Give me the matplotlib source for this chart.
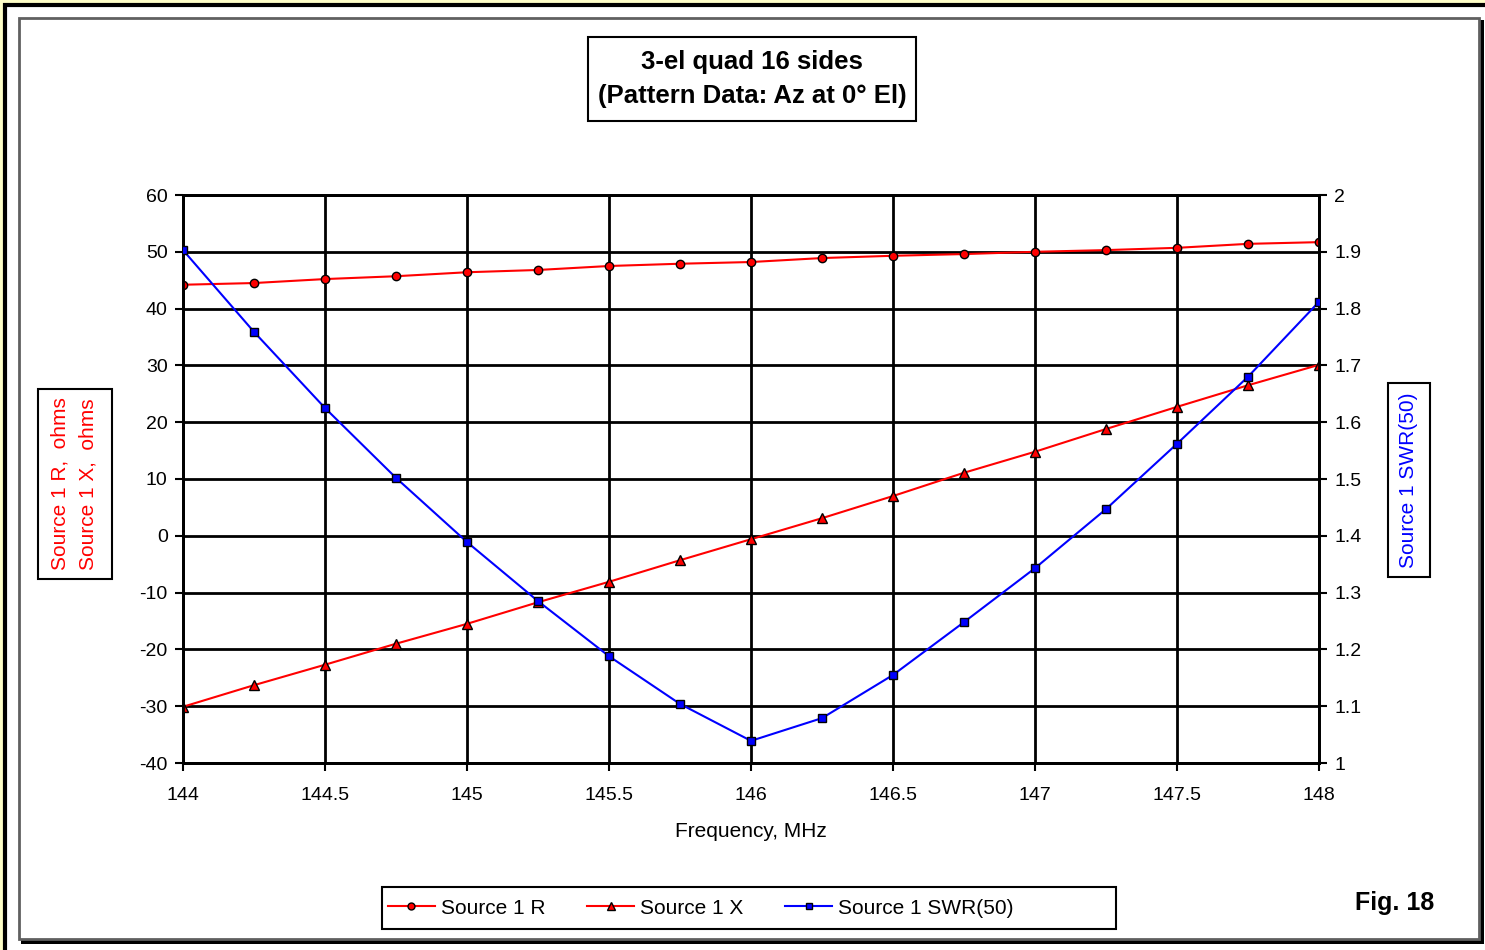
import matplotlib
matplotlib.use('Agg')
import matplotlib.pyplot as plt
from matplotlib.patches import Rectangle
from matplotlib.lines import Line2D

plt.rcParams['font.family'] = ['Liberation Sans', 'DejaVu Sans']
plt.rcParams['axes.unicode_minus'] = False

freq = [144, 144.25, 144.5, 144.75, 145, 145.25, 145.5, 145.75, 146,
        146.25, 146.5, 146.75, 147, 147.25, 147.5, 147.75, 148]
res = [44.2, 44.5, 45.2, 45.7, 46.4, 46.8, 47.5, 47.9, 48.2,
       48.9, 49.3, 49.6, 50.0, 50.3, 50.7, 51.4, 51.7]
react = [-30.1, -26.3, -22.7, -19.0, -15.5, -11.7, -8.1, -4.3, -0.6,
         3.1, 7.0, 11.1, 14.8, 18.8, 22.7, 26.5, 30.1]
swr = [1.903, 1.759, 1.625, 1.502, 1.389, 1.285, 1.188, 1.104, 1.039,
       1.079, 1.155, 1.248, 1.343, 1.447, 1.562, 1.680, 1.812]

W, H = 1485, 950
fig = plt.figure(figsize=(W / 100, H / 100), dpi=100)
fig.patch.set_facecolor('#ffffc8')


def fx(x):
    return x / W


def fy(y):
    return 1 - y / H


def box(x0, y0, x1, y1, z=-1, **kw):
    fig.patches.append(Rectangle((fx(x0), fy(y1)), fx(x1) - fx(x0), fy(y0) - fy(y1),
                                 transform=fig.transFigure, zorder=z, **kw))


# outer frame and chart area (behind the axes)
box(5, 5, 1490, 960, z=-3, facecolor='white', edgecolor='black', linewidth=3)
box(21, 20, 1484, 944, z=-2, facecolor='black', edgecolor='none')
box(19, 18, 1479, 939, z=-1, facecolor='white', edgecolor='#606060', linewidth=2)

ax = fig.add_axes([fx(183), fy(763), fx(1319) - fx(183), fy(195) - fy(763)])
ax.set_facecolor('white')
ax2 = ax.twinx()

ax.plot(freq, res, color='red', lw=1.5, marker='o', ms=6, mfc='red', mec='black', mew=1, zorder=3)
ax.plot(freq, react, color='red', lw=1.5, marker='^', ms=7, mfc='red', mec='black', mew=1, zorder=3)
ax2.plot(freq, swr, color='blue', lw=1.5, marker='s', ms=6, mfc='blue', mec='black', mew=1, zorder=3)

ax.set_xlim(144, 148)
ax.set_ylim(-40, 60)
ax2.set_ylim(1, 2)
ax.set_xticks([144, 144.5, 145, 145.5, 146, 146.5, 147, 147.5, 148])
ax.set_xticklabels(['144', '144.5', '145', '145.5', '146', '146.5', '147', '147.5', '148'])
ax.set_yticks(range(-40, 61, 10))
ax2.set_yticks([1, 1.1, 1.2, 1.3, 1.4, 1.5, 1.6, 1.7, 1.8, 1.9, 2])
ax2.set_yticklabels(['1', '1.1', '1.2', '1.3', '1.4', '1.5', '1.6', '1.7', '1.8', '1.9', '2'])
ax.grid(True, color='black', lw=2)
ax.set_axisbelow(True)
for a in (ax, ax2):
    a.tick_params(labelsize=14, length=6, width=1.5, colors='black', pad=5)
    for s in a.spines.values():
        s.set_linewidth(2)
ax.tick_params(axis='x', pad=11)
ax.tick_params(axis='y', pad=5)

ax.set_xlabel('Frequency, MHz', fontsize=15, labelpad=13)

# title box
fig.text(fx(752), fy(79), '3-el quad 16 sides\n(Pattern Data: Az at 0° El)', ha='center', va='center',
         fontsize=18.5, fontweight='bold', linespacing=1.55)
box(588, 37, 916, 121, z=5, facecolor='none', edgecolor='black', linewidth=1.5)

# axis title boxes
fig.text(fx(74), fy(484), 'Source 1 R,  ohms\nSource 1 X,  ohms', rotation=90, ha='center', va='center',
         color='red', fontsize=15, linespacing=1.55)
box(38, 389, 112, 579, z=5, facecolor='none', edgecolor='black', linewidth=1.5)
fig.text(fx(1409), fy(480), 'Source 1 SWR(50)', rotation=90, ha='center', va='center',
         color='blue', fontsize=15)
box(1388, 383, 1430, 577, z=5, facecolor='none', edgecolor='black', linewidth=1.5)

# legend: entries on the left of a wider box
handles = [
    Line2D([], [], color='red', lw=1.5, marker='o', ms=5, mfc='red', mec='black'),
    Line2D([], [], color='red', lw=1.5, marker='^', ms=6, mfc='red', mec='black'),
    Line2D([], [], color='blue', lw=1.5, marker='s', ms=5, mfc='blue', mec='black'),
]
fig.legend(handles, ['Source 1 R', 'Source 1 X', 'Source 1 SWR(50)'], ncol=3,
           loc='center left', bbox_to_anchor=(fx(388), fy(908)), fontsize=15,
           frameon=False, handlelength=2.25, handletextpad=0.3, columnspacing=2.0,
           borderpad=0, borderaxespad=0)
box(382, 887, 1116, 929, z=5, facecolor='none', edgecolor='black', linewidth=1.5)

fig.text(fx(1395), fy(903), 'Fig. 18', ha='center', va='center', fontsize=18, fontweight='bold')

fig.savefig('out.png', dpi=100, facecolor=fig.get_facecolor())
